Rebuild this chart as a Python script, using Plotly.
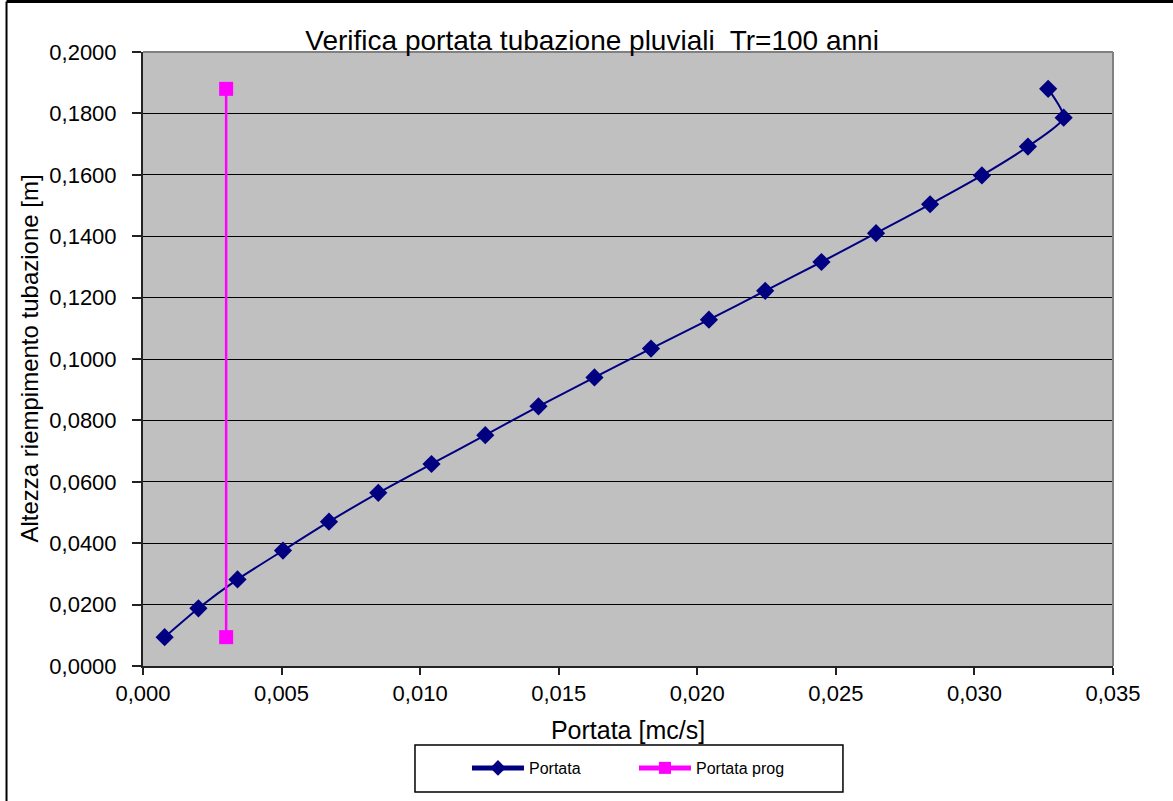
import plotly.graph_objects as go

# Data
portata_x = [0.00078, 0.00200, 0.00341, 0.00505, 0.00671, 0.00849, 0.01041,
             0.01235, 0.01427, 0.01629, 0.01833, 0.02042, 0.02245, 0.02448,
             0.02645, 0.02840, 0.03027, 0.03193, 0.03322, 0.03266]
altezza_y = [0.0094, 0.0188, 0.0282, 0.0376, 0.0470, 0.0564, 0.0658, 0.0752,
             0.0846, 0.0940, 0.1034, 0.1128, 0.1222, 0.1316, 0.1410, 0.1504,
             0.1598, 0.1692, 0.1786, 0.1880]
prog_x = [0.0030, 0.0030]
prog_y = [0.0094, 0.1880]

FONT = "Liberation Sans, Arial, sans-serif"

fig = go.Figure()
fig.add_trace(go.Scatter(
    x=portata_x, y=altezza_y, name="Portata", mode="lines+markers",
    line=dict(color="#000080", width=2, shape="spline", smoothing=0.6),
    marker=dict(symbol="diamond", size=14, color="#000080"),
))
fig.add_trace(go.Scatter(
    x=prog_x, y=prog_y, name="Portata prog", mode="lines+markers",
    line=dict(color="#FF00FF", width=2.5),
    marker=dict(symbol="square", size=14, color="#FF00FF"),
))

fig.update_layout(
    width=1173, height=801,
    margin=dict(l=143, r=60, t=52, b=135),
    paper_bgcolor="white", plot_bgcolor="#C0C0C0",
    separators=", ",
    font=dict(family=FONT, color="black"),
    title=dict(text="Verifica portata tubazione pluviali  Tr=100 anni",
               x=0.463, xref="paper", xanchor="center",
               y=1.0, yref="paper", yanchor="bottom",
               pad=dict(b=2),
               font=dict(size=28, family=FONT, color="black")),
    showlegend=True,
    legend=dict(orientation="h", x=0.334, xanchor="left", y=-0.1384, yanchor="top",
                borderwidth=0, bgcolor="rgba(0,0,0,0)",
                font=dict(size=16, family=FONT), entrywidth=100,
                itemwidth=52, itemsizing="constant"),
)

fig.update_xaxes(
    range=[0, 0.035], dtick=0.005, tick0=0, tickformat=".3f",
    showgrid=False, zeroline=False,
    showline=True, linecolor="#222222", linewidth=2,
    ticks="outside", ticklen=7, tickcolor="#222222", tickwidth=1.5,
    tickfont=dict(size=22, family=FONT),
    title=dict(text="Portata [mc/s]", font=dict(size=25, family=FONT), standoff=16),
)
fig.update_yaxes(
    range=[0, 0.2], dtick=0.02, tick0=0, tickformat=".4f",
    showgrid=True, gridcolor="black", gridwidth=1, zeroline=False,
    showline=True, linecolor="#222222", linewidth=2,
    ticks="outside", ticklen=9, tickcolor="#222222", tickwidth=1.5,
    ticklabelstandoff=11,
    tickfont=dict(size=22, family=FONT),
)

# y-axis title
fig.add_annotation(text="Altezza riempimento tubazione [m]", textangle=-90,
                   xref="paper", yref="paper", x=-0.118, y=0.5,
                   xanchor="center", yanchor="middle", showarrow=False,
                   font=dict(size=24, family=FONT, color="black"))

# gray top/right border of plot area
fig.add_shape(type="line", xref="paper", yref="paper", x0=0, x1=1, y0=1, y1=1,
              line=dict(color="#808080", width=2))
fig.add_shape(type="line", xref="paper", yref="paper", x0=1, x1=1, y0=0, y1=1,
              line=dict(color="#808080", width=2))
# legend frame
fig.add_shape(type="rect", xref="paper", yref="paper", x0=0.2804, x1=0.7216,
              y0=-0.2052, y1=-0.1287, line=dict(color="black", width=1.5),
              fillcolor="white", layer="below")
# outer chart frame (top and left edges visible)
fig.add_shape(type="line", xref="paper", yref="paper", x0=-0.1407, x1=1.2,
              y0=1.0822, y1=1.0822, line=dict(color="black", width=3))
fig.add_shape(type="line", xref="paper", yref="paper", x0=-0.1407, x1=-0.1407,
              y0=-0.3, y1=1.0822, line=dict(color="black", width=2))

fig.write_html("out.html")
